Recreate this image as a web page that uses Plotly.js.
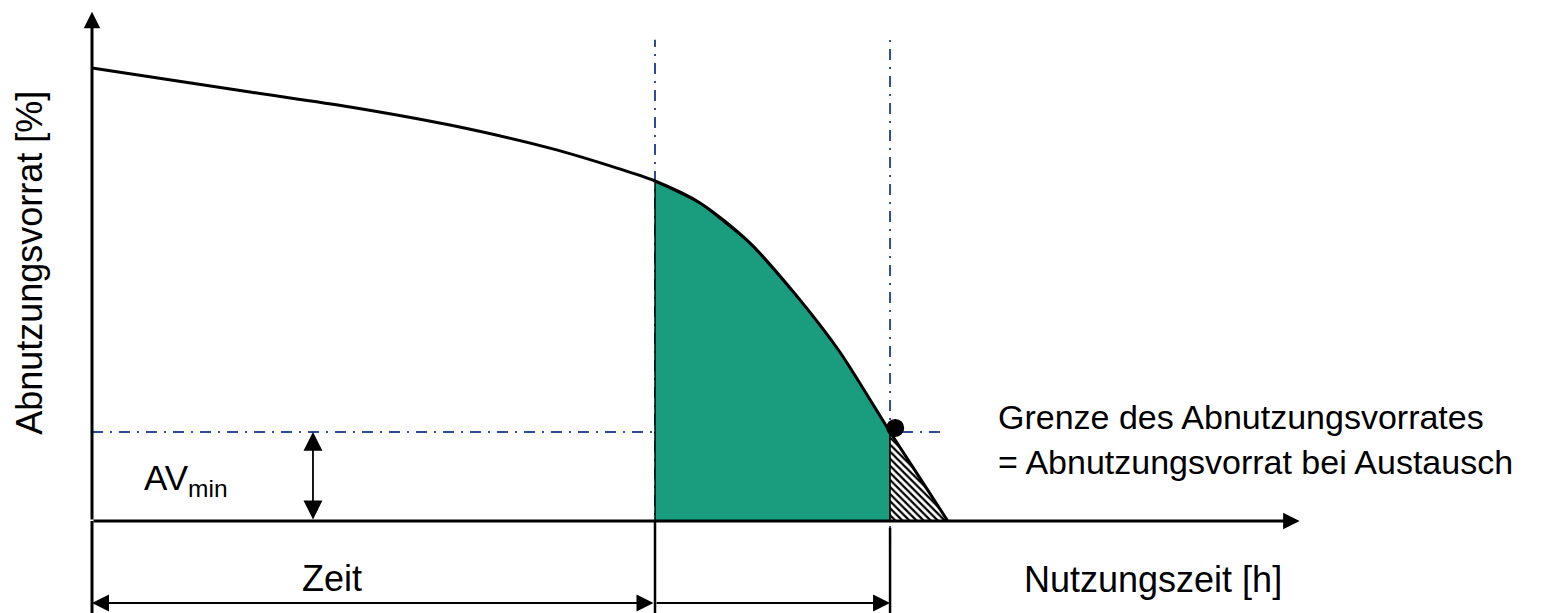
<!DOCTYPE html>
<html>
<head>
<meta charset="utf-8">
<script src="https://cdn.plot.ly/plotly-3.0.1.min.js"></script>
<style>html,body{margin:0;padding:0;background:#fff;}#chart{width:1568px;height:613px;}</style>
</head>
<body>
<div id="chart"></div>
<script>
// Wear reserve curve (time units, percent)
const timeX = [0, 16.84, 27.5, 38.15, 48.8, 55.95, 60, 64.8, 70.1, 75.45, 79.7, 85.05, 88.1, 91.2];
const wear  = [100, 94.7, 91.4, 87.4, 82.3, 77.9, 75.05, 70.2, 61.4, 48.8, 37.3, 19.65, 9.9, 0];
// Key time points
const tInspect = 60;     // start of green region
const tReplace = 85.05;  // replacement at AV_min
const tFail = 91.2;      // wear reserve exhausted
const avMin = 19.65;     // limit of wear reserve
const xAxisEnd = 128.7;
const yAxisEnd = 112.4;
// Labels
const yLabel = "Abnutzungsvorrat [%]";
const xLabel = "Nutzungszeit [h]";
const limitLabel1 = "Grenze des Abnutzungsvorrates";
const limitLabel2 = "= Abnutzungsvorrat bei Austausch";
const zeitLabel = "Zeit";
const avLabel = "AV<sub>min</sub>";

const green = "#199D7E";
const blue = "#2F4B9A";
const font = "Liberation Sans, Arial, sans-serif";

// green polygon from curve segment
const gx = [tInspect], gy = [0];
timeX.forEach((t, i) => { if (t >= tInspect && t <= tReplace) { gx.push(t); gy.push(wear[i]); } });
gx.push(tReplace); gy.push(0); gx.push(tInspect); gy.push(0);

const traces = [
  {x: gx, y: gy, mode: "lines", fill: "toself", fillcolor: green,
   line: {color: "black", width: 1.5}, hoverinfo: "skip"},
  {x: [tReplace, tReplace, tFail, tReplace], y: [avMin, 0, 0, avMin], mode: "lines", fill: "toself",
   fillcolor: "white", fillpattern: {shape: "\\", fgcolor: "black", bgcolor: "white", size: 5, solidity: 0.45},
   line: {color: "black", width: 1.5}, hoverinfo: "skip"},
  {x: timeX, y: wear, mode: "lines", line: {color: "black", width: 3, shape: "spline", smoothing: 0.8}, hoverinfo: "skip"},
  {x: [tReplace + 0.55], y: [avMin + 0.9], mode: "markers", marker: {color: "black", size: 18}, hoverinfo: "skip"}
];

const dash = "11px,7px,2px,7px";
const shapes = [
  {type: "line", layer: "below", x0: tInspect, x1: tInspect, y0: -8.6, y1: 106.2, line: {color: blue, width: 2, dash: dash}},
  {type: "line", layer: "below", x0: tReplace, x1: tReplace, y0: -5.5, y1: 106.2, line: {color: blue, width: 2, dash: dash}},
  {type: "line", layer: "below", x0: 0, x1: 91, y0: avMin, y1: avMin, line: {color: blue, width: 2, dash: dash}},
  {type: "line", x0: 0, x1: 0, y0: 0, y1: -20.3, line: {color: "black", width: 3}},
  {type: "line", x0: tInspect, x1: tInspect, y0: 0, y1: -20.3, line: {color: "black", width: 2.5}},
  {type: "line", x0: tReplace, x1: tReplace, y0: -1.5, y1: -20.3, line: {color: "black", width: 2.5}}
];

function arrow(x, y, ax, ay, w, size, side) {
  return {x: x, y: y, ax: ax, ay: ay, xref: "x", yref: "y", axref: "x", ayref: "y",
    showarrow: true, arrowhead: 2, arrowsize: size, arrowwidth: w, arrowcolor: "black",
    arrowside: side || "end", text: "", standoff: 0, startstandoff: 0};
}
function label(x, y, text, xanchor, size, extra) {
  return Object.assign({x: x, y: y, xref: "x", yref: "y", text: text, showarrow: false,
    xanchor: xanchor, yanchor: "middle", font: {family: font, size: size, color: "black"}}, extra || {});
}

const annotations = [
  arrow(xAxisEnd, 0, 0, 0, 3, 1.1),
  arrow(0, yAxisEnd, 0, 0, 3, 1.1),
  arrow(23.55, avMin, 23.55, 0, 1.8, 2.1, "end+start"),
  arrow(0, -18.1, tInspect, -18.1, 2, 1.7, "end+start"),
  arrow(tReplace, -18.1, tInspect, -18.1, 2, 1.7),
  label(-6.6, 57.0, yLabel, "center", 36, {textangle: -90}),
  label(96.3, 23.0, limitLabel1, "left", 34),
  label(96.3, 13.0, limitLabel2, "left", 34),
  label(99.1, -13.0, xLabel, "left", 36),
  label(25.6, -12.6, zeitLabel, "center", 36),
  label(5.3, 9.0, avLabel, "left", 35)
];

const layout = {
  width: 1568, height: 613, margin: {l: 0, r: 0, t: 0, b: 0},
  paper_bgcolor: "white", plot_bgcolor: "white", showlegend: false,
  xaxis: {range: [-9.805, 157.3], visible: false, fixedrange: true},
  yaxis: {range: [-20.31, 115.0], visible: false, fixedrange: true},
  shapes: shapes, annotations: annotations
};
Plotly.newPlot("chart", traces, layout, {displayModeBar: false, staticPlot: true});
</script>
</body>
</html>
